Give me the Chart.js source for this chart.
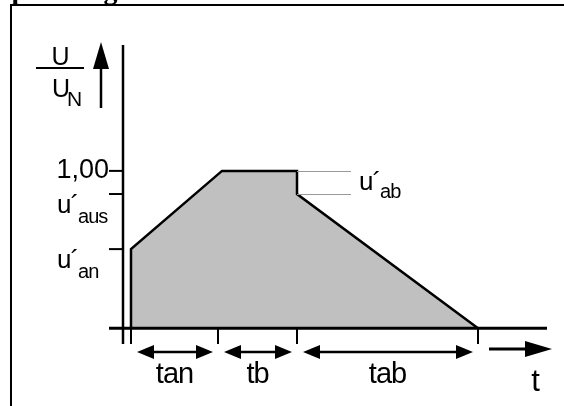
<!DOCTYPE html>
<html lang="de">
<head>
<meta charset="UTF-8">
<title>Spannungsverlauf</title>
<script src="https://cdn.jsdelivr.net/npm/chart.js"></script>
<style>
  html, body { margin: 0; padding: 0; background: #fff; }
  #chart { display: block; }
</style>
</head>
<body>
<canvas id="chart" width="564" height="406"></canvas>
<script>
// Zeitpunkte auf der t-Achse (willkuerliche Einheiten)
const tBreaks = [0.8, 9.5, 17.4, 35.5];   // Beginn, Ende tan, Ende tb, Ende tab
const phaseLabels = ['tan', 'tb', 'tab'];

// Spannungsverlauf U/UN
const curveT = [0.8, 0.8, 9.9, 17.4, 17.4, 35.5];
const curveU = [0, 0.503, 1.0, 1.0, 0.853, 0];

// Marken an der U-Achse
const uTicks = [1.0, 0.853, 0.503];
const uTickText = ['1,00', 'u´', 'u´'];
const uTickSub = ['', 'aus', 'an'];

// Sprung u´ab
const uAbLevels = [1.0, 0.853];
const uAbText = 'u´';
const uAbSub = 'ab';

// Achsenbereich
const tMin = -1.4, tMax = 42.4;
const uMin = -0.1, uMax = 1.8;

const SANS = '"Liberation Sans", Arial, sans-serif';

function seg(x1, y1, x2, y2, width, color, order) {
    return {
        data: [{x: x1, y: y1}, {x: x2, y: y2}],
        borderColor: color || '#000',
        borderWidth: width,
        pointRadius: 0,
        fill: false,
        order: order || 0
    };
}

// Pfeil mit gefuellter Spitze
function arrowHead(ctx, x, y, dir, len, half) {
    ctx.beginPath();
    ctx.moveTo(x, y);
    ctx.lineTo(x - dir * len, y - half);
    ctx.lineTo(x - dir * len, y + half);
    ctx.closePath();
    ctx.fill();
}

function labelWithSub(ctx, main, sub, x, y, size, subSize, subDy) {
    ctx.textAlign = 'left';
    ctx.font = size + 'px ' + SANS;
    ctx.fillText(main, x, y);
    const w = ctx.measureText(main).width;
    ctx.font = subSize + 'px ' + SANS;
    ctx.fillText(sub, x + w, y + subDy);
}

const sketch = {
    id: 'sketch',
    afterDraw(chart) {
        const {ctx, scales: {x, y}} = chart;
        const px = v => x.getPixelForValue(v);
        const py = v => y.getPixelForValue(v);
        const ax = px(0), ay = py(0), bottom = py(uMin);

        ctx.save();
        ctx.fillStyle = '#000';
        ctx.strokeStyle = '#000';
        ctx.lineCap = 'butt';

        // Rahmen + abgeschnittene Ueberschrift
        ctx.lineWidth = 2;
        ctx.beginPath();
        ctx.moveTo(11, 406); ctx.lineTo(11, 5); ctx.lineTo(564, 5);
        ctx.stroke();
        ctx.font = 'bold 28px "Liberation Serif", serif';
        ctx.textBaseline = 'alphabetic';
        ctx.fillText('Spannungsverlauf', -4, -1);

        ctx.letterSpacing = '-1px';

        // Striche an der t-Achse
        ctx.lineWidth = 2;
        tBreaks.forEach(t => {
            ctx.beginPath();
            ctx.moveTo(px(t), ay); ctx.lineTo(px(t), bottom);
            ctx.stroke();
        });

        // Striche + Beschriftung an der U-Achse
        uTicks.forEach((u, i) => {
            ctx.lineWidth = 2;
            ctx.beginPath();
            ctx.moveTo(px(tMin), py(u)); ctx.lineTo(ax, py(u));
            ctx.stroke();
            if (uTickSub[i]) {
                labelWithSub(ctx, uTickText[i], uTickSub[i], ax - 66, py(u) + 19, 26, 20, 10);
            } else {
                ctx.letterSpacing = '0px';
                ctx.font = '27px ' + SANS;
                ctx.textAlign = 'right';
                ctx.fillText(uTickText[i], ax - 14, py(u) + 7);
                ctx.letterSpacing = '-1px';
            }
        });

        // Hilfslinien u´ab
        ctx.strokeStyle = '#999';
        ctx.lineWidth = 1;
        const abX = px(tBreaks[2]);
        uAbLevels.forEach(u => {
            ctx.beginPath();
            ctx.moveTo(abX, Math.round(py(u)) + 0.5); ctx.lineTo(abX + 54, Math.round(py(u)) + 0.5);
            ctx.stroke();
        });
        const abMid = (py(uAbLevels[0]) + py(uAbLevels[1])) / 2;
        labelWithSub(ctx, uAbText, uAbSub, abX + 62, abMid + 8, 26, 20, 8);

        // Achsenbeschriftung U/UN mit Pfeil
        ctx.strokeStyle = '#000';
        ctx.fillStyle = '#000';
        ctx.font = '25px ' + SANS;
        ctx.textAlign = 'center';
        ctx.fillText('U', ax - 63, 65);
        ctx.lineWidth = 2;
        ctx.beginPath();
        ctx.moveTo(ax - 87, 68); ctx.lineTo(ax - 39, 68);
        ctx.stroke();
        ctx.letterSpacing = '-3px';
        labelWithSub(ctx, 'U', 'N', ax - 71, 97, 25, 21, 9);
        ctx.letterSpacing = '-1px';

        const upX = ax - 22;
        ctx.lineWidth = 2.5;
        ctx.beginPath();
        ctx.moveTo(upX, 108); ctx.lineTo(upX, 62);
        ctx.stroke();
        ctx.beginPath();
        ctx.moveTo(upX, 42); ctx.lineTo(upX - 8, 69); ctx.lineTo(upX + 8, 69);
        ctx.closePath();
        ctx.fill();

        // Zeitabschnitte mit Doppelpfeilen
        const arrowY = 352;
        ctx.font = '29px ' + SANS;
        ctx.textAlign = 'center';
        phaseLabels.forEach((lab, i) => {
            const x1 = px(tBreaks[i]) + 6, x2 = px(tBreaks[i + 1]) - 5;
            ctx.lineWidth = 2.5;
            ctx.beginPath();
            ctx.moveTo(x1 + 10, arrowY); ctx.lineTo(x2 - 10, arrowY);
            ctx.stroke();
            arrowHead(ctx, x1, arrowY, -1, 17, 7);
            arrowHead(ctx, x2, arrowY, 1, 17, 7);
            ctx.fillText(lab, (px(tBreaks[i]) + px(tBreaks[i + 1])) / 2, 383);
        });

        // t-Pfeil
        const tx2 = px(tMax) + 5, tx1 = tx2 - 63;
        ctx.lineWidth = 3;
        ctx.beginPath();
        ctx.moveTo(tx1, 349); ctx.lineTo(tx2 - 20, 349);
        ctx.stroke();
        arrowHead(ctx, tx2, 349, 1, 27, 8);
        ctx.font = '31px ' + SANS;
        ctx.fillText('t', tx2 - 17, 391);

        ctx.restore();
    }
};

const curve = curveT.map((t, i) => ({x: t, y: curveU[i]}));

new Chart(document.getElementById('chart'), {
    type: 'line',
    data: {
        datasets: [
            seg(0, uMin, 0, uMax, 2.5),                 // U-Achse
            seg(tMin, 0, tMax, 0, 3),                   // t-Achse
            {
                data: curve,
                borderColor: '#000',
                borderWidth: 2.5,
                backgroundColor: '#c0c0c0',
                fill: 'origin',
                pointRadius: 0,
                tension: 0,
                order: 10
            }
        ]
    },
    options: {
        responsive: false,
        animation: false,
        layout: { padding: { left: 109, right: 17, top: 45, bottom: 62 } },
        scales: {
            x: { type: 'linear', min: tMin, max: tMax, display: false },
            y: { type: 'linear', min: uMin, max: uMax, display: false }
        },
        plugins: { legend: { display: false }, tooltip: { enabled: false } }
    },
    plugins: [sketch]
});
</script>
</body>
</html>
